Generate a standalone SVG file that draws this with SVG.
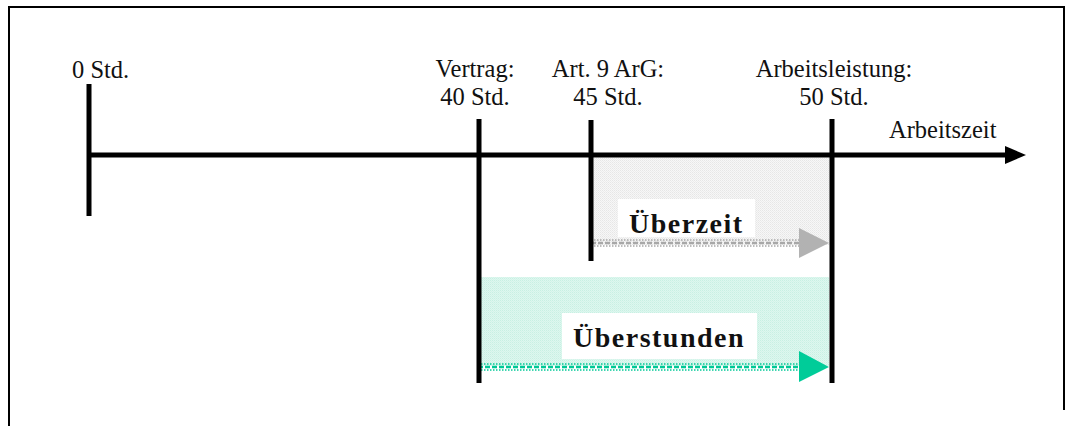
<svg xmlns="http://www.w3.org/2000/svg" width="1072" height="426" viewBox="0 0 1072 426">
<style>
.t{font-family:"Liberation Serif","Times New Roman",serif;font-size:24.5px;fill:#111}
.b{font-family:"Liberation Serif","Times New Roman",serif;font-size:28px;font-weight:bold;letter-spacing:1.5px;fill:#111}
.tick{stroke:#000;stroke-width:5;fill:none}
.frame{stroke:#000;stroke-width:2;fill:none}
</style>
<defs>
<pattern id="pg" width="2" height="2" patternUnits="userSpaceOnUse">
<rect width="2" height="2" fill="#f7f7f7"/><rect width="1" height="1" fill="#e6e6e6"/><rect x="1" y="1" width="1" height="1" fill="#ececec"/>
</pattern>
<pattern id="pm" width="2" height="2" patternUnits="userSpaceOnUse">
<rect width="2" height="2" fill="#def7ef"/><rect width="1" height="1" fill="#c8f0e3"/><rect x="1" y="1" width="1" height="1" fill="#d3f4e9"/>
</pattern>
</defs>
<g id="frame"><path class="frame" d="M9,426 V7 H1064 V410"/></g>
<g id="zone-ueberzeit"><rect x="593" y="158" width="237" height="87" fill="url(#pg)"/></g>
<g id="zone-ueberstunden"><rect x="481" y="277" width="348" height="89" fill="url(#pm)"/></g>
<g id="connectors">
<line x1="89" y1="155" x2="1006" y2="155" stroke="#000" stroke-width="5"/>
<polygon points="1005,146 1026,155 1005,164" fill="#000"/>
<g stroke="#a8a8a8">
<line x1="591" y1="240" x2="800" y2="240" stroke-width="1.5" stroke-dasharray="1.5 1.5"/>
<line x1="591" y1="243" x2="800" y2="243" stroke-width="2.5" stroke-dasharray="5 2"/>
<line x1="591" y1="246" x2="800" y2="246" stroke-width="1.5" stroke-dasharray="1.5 1.5"/>
</g>
<polygon points="799,228 829,243 799,258" fill="#b2b2b2"/>
<g stroke="#00c896">
<line x1="478" y1="364" x2="800" y2="364" stroke-width="1.5" stroke-dasharray="1.5 1.5"/>
<line x1="478" y1="367" x2="800" y2="367" stroke-width="2.5" stroke-dasharray="5 2"/>
<line x1="478" y1="370" x2="800" y2="370" stroke-width="1.5" stroke-dasharray="1.5 1.5"/>
</g>
<polygon points="799,351 829,367 799,382" fill="#00cc99"/>
</g>
<g id="tick-0"><line class="tick" x1="89" y1="84" x2="89" y2="216"/><text class="t" x="72" y="78">0 Std.</text></g>
<g id="tick-40"><line class="tick" x1="479" y1="119" x2="479" y2="383"/><text class="t" x="475" y="77" text-anchor="middle">Vertrag:</text><text class="t" x="475" y="105" text-anchor="middle">40 Std.</text></g>
<g id="tick-45"><line class="tick" x1="591" y1="120" x2="591" y2="261"/><text class="t" x="608" y="77" text-anchor="middle">Art. 9 ArG:</text><text class="t" x="608" y="105" text-anchor="middle">45 Std.</text></g>
<g id="tick-50"><line class="tick" x1="832" y1="119" x2="832" y2="383"/><text class="t" x="834" y="77" text-anchor="middle">Arbeitsleistung:</text><text class="t" x="834" y="105" text-anchor="middle">50 Std.</text></g>
<g id="axis-label"><text class="t" x="889" y="138">Arbeitszeit</text></g>
<g id="label-ueberzeit"><rect x="618" y="199" width="137" height="38" fill="#fff"/><text class="b" x="629" y="233">Überzeit</text></g>
<g id="label-ueberstunden"><rect x="562" y="313" width="195" height="46" fill="#fff"/><text class="b" x="573" y="347">Überstunden</text></g>
</svg>
